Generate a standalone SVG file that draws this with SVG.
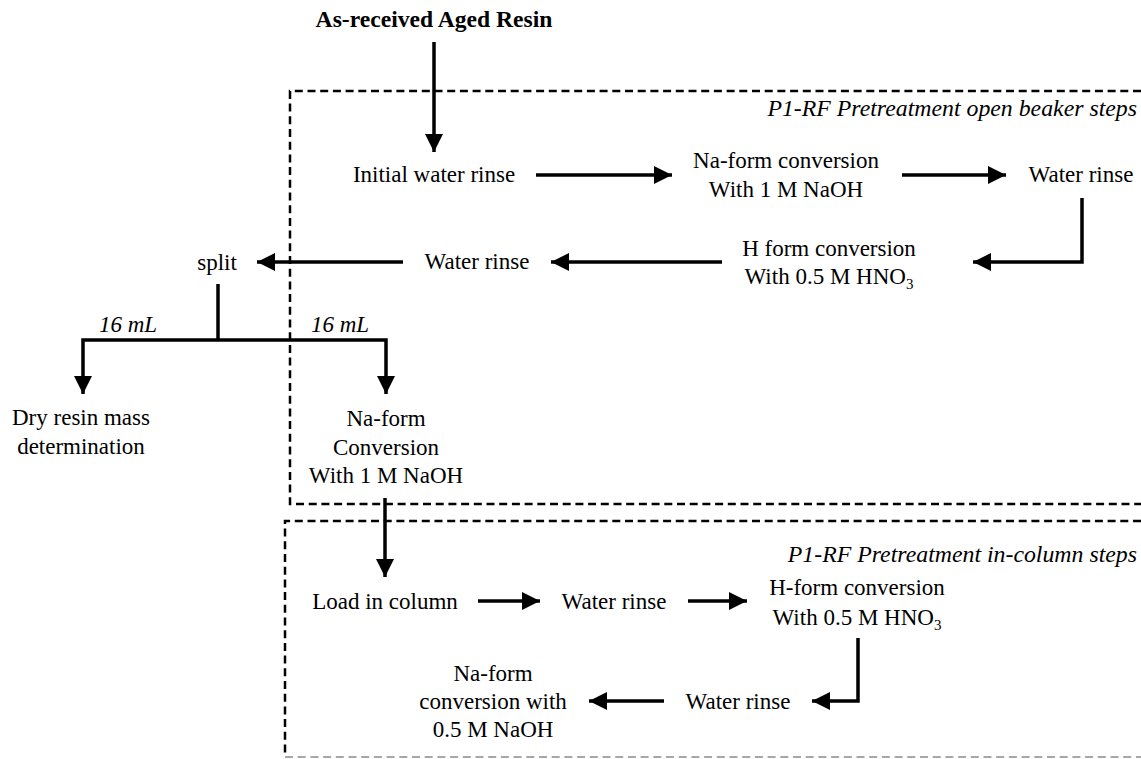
<svg xmlns="http://www.w3.org/2000/svg" width="1141" height="759" viewBox="0 0 1141 759">
<style>
text{font-family:"Liberation Serif","Times New Roman",serif;font-size:23px;fill:#000}
.c{text-anchor:middle}
.it{font-style:italic}
.lbl{font-style:italic;text-anchor:end;font-size:23.8px}
.b{font-weight:bold;font-size:23.6px}
.arr{fill:none;stroke:#000;stroke-width:3.5}
.dash{fill:none;stroke:#000;stroke-width:2.5;stroke-dasharray:8 4.7}
.dashg{fill:none;stroke:#8a8a8a;stroke-width:1.5;stroke-dasharray:8 4.7}
</style>
<defs>
<marker id="ah" markerUnits="userSpaceOnUse" markerWidth="19" markerHeight="19" refX="18" refY="9" orient="auto">
<path d="M0,0 L18,9 L0,18 z" fill="#000"/>
</marker>
</defs>
<rect width="1141" height="759" fill="#fff"/>

<g id="group-open-beaker">
<path class="dash" d="M1141,91 H290 V504 H1141"/>
<text class="lbl" x="1137" y="116">P1-RF Pretreatment open beaker steps</text>
</g>
<g id="group-in-column">
<path class="dash" d="M1141,521 H285 V757"/>
<path class="dashg" d="M285,757 H1141"/>
<text class="lbl" x="1137" y="562">P1-RF Pretreatment in-column steps</text>
</g>

<g id="connectors">
<path class="arr" d="M434,42 V152" marker-end="url(#ah)"/>
<path class="arr" d="M536,175 H672" marker-end="url(#ah)"/>
<path class="arr" d="M902,175 H1006" marker-end="url(#ah)"/>
<path class="arr" d="M1082,198 V262 H973" marker-end="url(#ah)"/>
<path class="arr" d="M722,262 H551" marker-end="url(#ah)"/>
<path class="arr" d="M403,262 H257" marker-end="url(#ah)"/>
<path class="arr" d="M218,284 V340"/>
<path class="arr" d="M218,340 H83 V394" marker-end="url(#ah)"/>
<path class="arr" d="M218,340 H386 V394" marker-end="url(#ah)"/>
<path class="arr" d="M385,498 V577" marker-end="url(#ah)"/>
<path class="arr" d="M478,601 H540" marker-end="url(#ah)"/>
<path class="arr" d="M688,601 H747" marker-end="url(#ah)"/>
<path class="arr" d="M858,638 V701 H812" marker-end="url(#ah)"/>
<path class="arr" d="M664,701 H589" marker-end="url(#ah)"/>
<text class="c it" x="128" y="332">16 mL</text>
<text class="c it" x="340" y="332">16 mL</text>
</g>

<g id="node-start"><text class="c b" x="434" y="27">As-received Aged Resin</text></g>
<g id="node-initial-rinse"><text class="c" x="434" y="182">Initial water rinse</text></g>
<g id="node-na-form-1"><text class="c" x="786" y="168">Na-form conversion</text><text class="c" x="786" y="197">With 1 M NaOH</text></g>
<g id="node-water-rinse-1"><text class="c" x="1081" y="182">Water rinse</text></g>
<g id="node-h-form-1"><text class="c" x="829" y="256">H form conversion</text><text class="c" x="829" y="284">With 0.5 M HNO<tspan font-size="15" dy="5">3</tspan></text></g>
<g id="node-water-rinse-2"><text class="c" x="477" y="269">Water rinse</text></g>
<g id="node-split"><text class="c" x="217" y="270">split</text></g>
<g id="node-dry-mass"><text class="c" x="81" y="425">Dry resin mass</text><text class="c" x="81" y="454">determination</text></g>
<g id="node-na-form-2"><text class="c" x="386" y="426">Na-form</text><text class="c" x="386" y="455">Conversion</text><text class="c" x="386" y="483">With 1 M NaOH</text></g>
<g id="node-load"><text class="c" x="385" y="609">Load in column</text></g>
<g id="node-water-rinse-3"><text class="c" x="614" y="609">Water rinse</text></g>
<g id="node-h-form-2"><text class="c" x="857" y="595">H-form conversion</text><text class="c" x="857" y="625">With 0.5 M HNO<tspan font-size="15" dy="5">3</tspan></text></g>
<g id="node-water-rinse-4"><text class="c" x="738" y="709">Water rinse</text></g>
<g id="node-na-form-3"><text class="c" x="493" y="681">Na-form</text><text class="c" x="493" y="709">conversion with</text><text class="c" x="493" y="737">0.5 M NaOH</text></g>
</svg>
